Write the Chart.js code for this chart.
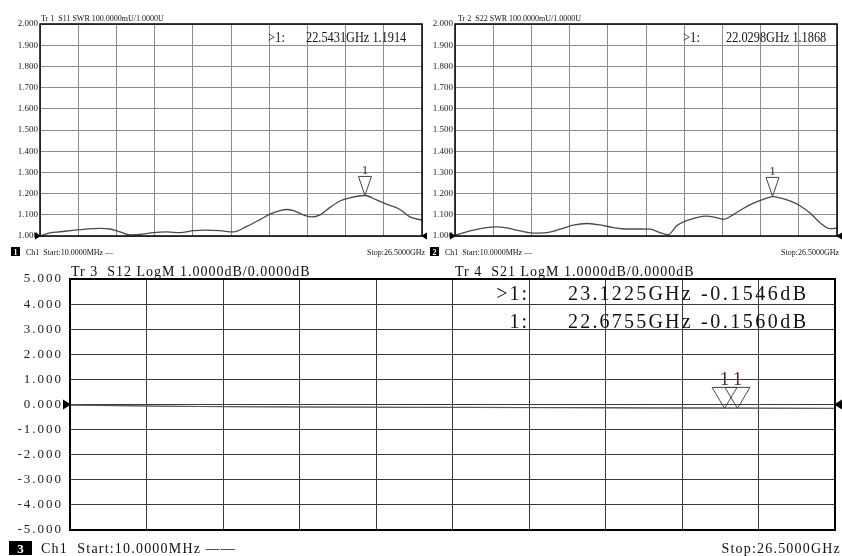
<!DOCTYPE html>
<html>
<head>
<meta charset="utf-8">
<script src="https://cdn.jsdelivr.net/npm/chart.js@4.4.0/dist/chart.umd.min.js"></script>
<style>
body { margin: 0; background: #fff; width: 842px; height: 556px; overflow: hidden; position: relative; }
canvas { position: absolute; }
</style>
</head>
<body>
<canvas id="s11" width="430" height="262" style="left:0;top:0;width:430px;height:262px"></canvas>
<canvas id="s22" width="427" height="262" style="left:415px;top:0;width:427px;height:262px"></canvas>
<canvas id="sxx" width="842" height="300" style="left:0;top:256px;width:842px;height:300px"></canvas>
<script>
// sweep
const freqStart = 0.01; // GHz
const freqStop = 26.5;
const gridDivisions = 10;

// tick labels
const swrTicks = [1.0, 1.1, 1.2, 1.3, 1.4, 1.5, 1.6, 1.7, 1.8, 1.9, 2.0];
const dbTicks = [-5, -4, -3, -2, -1, 0, 1, 2, 3, 4, 5];

// Tr 1 - S11 SWR
const s11Freq = [0.01, 0.70, 1.40, 2.78, 4.17, 4.86, 5.56, 6.25, 6.94, 7.87, 8.79, 9.72, 10.64, 11.57, 12.49,
    13.41, 14.34, 15.26, 15.96, 16.65, 17.11, 17.58, 18.27, 18.85, 19.43, 20.12, 20.81, 21.51, 22.54,
    23.35, 24.04, 24.97, 25.66, 26.50];
const s11Swr = [1.000, 1.015, 1.020, 1.030, 1.036, 1.033, 1.020, 1.005, 1.007, 1.016, 1.019, 1.016, 1.025, 1.028, 1.025,
    1.019, 1.045, 1.077, 1.103, 1.120, 1.125, 1.120, 1.100, 1.090, 1.100, 1.135, 1.165, 1.180, 1.191,
    1.170, 1.150, 1.125, 1.090, 1.075];

// Tr 2 - S22 SWR
const s22Freq = [0.01, 1.05, 2.21, 2.90, 3.59, 4.52, 5.44, 6.37, 7.29, 8.21, 9.14, 10.06, 10.99, 11.91, 12.84,
    13.53, 14.23, 14.80, 15.38, 16.08, 16.77, 17.46, 17.92, 18.62, 19.31, 20.00, 20.70, 21.39, 22.04,
    22.55, 23.24, 23.93, 24.63, 25.32, 26.01, 26.50];
const s22Swr = [1.003, 1.024, 1.040, 1.043, 1.038, 1.024, 1.014, 1.016, 1.032, 1.051, 1.059, 1.052, 1.040, 1.033, 1.033,
    1.032, 1.016, 1.006, 1.048, 1.073, 1.087, 1.094, 1.090, 1.079, 1.101, 1.130, 1.155, 1.173, 1.186,
    1.180, 1.166, 1.143, 1.108, 1.063, 1.035, 1.037];

// Tr 3 - S12 LogM, Tr 4 - S21 LogM
const s12Freq = [0.01, 1.5, 3.0, 4.5, 6.0, 8.0, 10.0, 12.0, 14.0, 16.0, 18.0, 20.0, 22.0, 24.0, 26.5];
const s12Db = [-0.02, -0.04, -0.06, -0.08, -0.09, -0.10, -0.10, -0.11, -0.11, -0.12, -0.12, -0.13, -0.13, -0.14, -0.15];
const s21Freq = [0.01, 1.5, 3.0, 4.5, 6.0, 8.0, 10.0, 12.0, 14.0, 16.0, 18.0, 20.0, 22.0, 24.0, 26.5];
const s21Db = [-0.03, -0.05, -0.07, -0.08, -0.09, -0.10, -0.11, -0.12, -0.12, -0.13, -0.14, -0.15, -0.155, -0.155, -0.16];

// markers
const s11MarkerFreq = [22.5431];
const s11MarkerVal = [1.1914];
const s22MarkerFreq = [22.0298];
const s22MarkerVal = [1.1868];
const s21MarkerFreq = [23.1225, 22.6755];
const s21MarkerVal = [-0.1546, -0.1560];

const SERIF = '"Liberation Serif", "DejaVu Serif", serif';

function pts(xs, ys) {
    return xs.map(function (x, i) { return { x: x, y: ys[i] }; });
}

// draws frame, reference arrows, markers and the instrument texts
const vnaDecor = {
    id: "vnaDecor",
    beforeDraw: function (chart, args, opts) {
        // wide-set tick digits like the instrument font
        chart.ctx.letterSpacing = (opts.tickSpacing || 0) + "px";
    },
    beforeDatasetsDraw: function (chart) {
        chart.ctx.letterSpacing = "0px";
    },
    afterDraw: function (chart, args, opts) {
        const ctx = chart.ctx;
        const a = chart.chartArea;
        const xs = chart.scales.x;
        const ys = chart.scales.y;
        ctx.save();

        ctx.strokeStyle = "#000";
        ctx.lineWidth = opts.frameWidth;
        ctx.strokeRect(a.left, a.top, a.right - a.left, a.bottom - a.top);

        // reference level arrows
        const ry = ys.getPixelForValue(opts.refValue);
        const s = opts.arrow;
        ctx.fillStyle = "#000";
        ctx.beginPath();
        ctx.moveTo(a.left - s, ry - s * 0.7);
        ctx.lineTo(a.left - s, ry + s * 0.7);
        ctx.lineTo(a.left + 1, ry);
        ctx.closePath();
        ctx.fill();
        ctx.beginPath();
        ctx.moveTo(a.right + s, ry - s * 0.7);
        ctx.lineTo(a.right + s, ry + s * 0.7);
        ctx.lineTo(a.right - 1, ry);
        ctx.closePath();
        ctx.fill();

        // markers
        opts.markerFreq.forEach(function (f, i) {
            const mx = xs.getPixelForValue(f);
            const my = ys.getPixelForValue(opts.markerVal[i]);
            const w = opts.tri[0], h = opts.tri[1];
            ctx.strokeStyle = "#444";
            ctx.lineWidth = 1;
            ctx.beginPath();
            ctx.moveTo(mx, my);
            ctx.lineTo(mx - w / 2, my - h);
            ctx.lineTo(mx + w / 2, my - h);
            ctx.closePath();
            ctx.stroke();
            ctx.fillStyle = "#4a2a20";
            ctx.font = opts.markerFont;
            ctx.textAlign = "center";
            ctx.textBaseline = "alphabetic";
            ctx.fillText("1", mx, my - h - 2);
        });

        // texts
        opts.texts.forEach(function (t) {
            if (t.box) {
                ctx.fillStyle = "#000";
                ctx.fillRect(t.box[0], t.box[1], t.box[2], t.box[3]);
                ctx.fillStyle = "#fff";
            } else {
                ctx.fillStyle = "#111";
            }
            ctx.font = t.font;
            ctx.textAlign = t.align || "left";
            ctx.textBaseline = "alphabetic";
            ctx.letterSpacing = (t.sp || 0) + "px";
            ctx.save();
            ctx.translate(t.x, t.y);
            ctx.scale(t.sx || 1, 1);
            ctx.fillText(t.text, 0, 0);
            ctx.restore();
            ctx.letterSpacing = "0px";
        });
        ctx.restore();
    },
};

function freqAxis(gridColor) {
    return {
        type: "linear",
        min: freqStart,
        max: freqStop,
        afterBuildTicks: function (scale) {
            const t = [];
            for (let i = 0; i <= gridDivisions; i++) {
                t.push({ value: freqStart + (freqStop - freqStart) * i / gridDivisions });
            }
            scale.ticks = t;
        },
        afterFit: function (scale) { scale.height = 0; },
        ticks: { display: false },
        border: { display: false },
        grid: { color: gridColor, lineWidth: 1, drawTicks: false },
    };
}

function valueAxis(tickList, width, font, gridColor, pad) {
    return {
        type: "linear",
        min: tickList[0],
        max: tickList[tickList.length - 1],
        afterBuildTicks: function (scale) {
            scale.ticks = tickList.map(function (v) { return { value: v }; });
        },
        afterFit: function (scale) { scale.width = width; },
        ticks: {
            color: "#222",
            font: font,
            padding: pad,
            callback: function (v) { return Number(v).toFixed(3); },
        },
        border: { display: false },
        grid: { color: gridColor, lineWidth: 1, drawTicks: false },
    };
}

function swrReadout(f, v) {
    return f.toFixed(4) + "GHz " + v.toFixed(4);
}

function makeSwrChart(id, tr, param, freq, swr, mFreq, mVal, pos) {
    const small = '8px ' + SERIF;
    const read = '14px ' + SERIF;
    new Chart(document.getElementById(id), {
        type: "line",
        data: {
            datasets: [{
                data: pts(freq, swr),
                borderColor: "#4a4a4a",
                borderWidth: 1.3,
                pointRadius: 0,
                cubicInterpolationMode: "monotone",
            }],
        },
        options: {
            responsive: false,
            animation: false,
            layout: { padding: { top: 24, bottom: 26, left: 0, right: pos.right } },
            plugins: {
                legend: { display: false },
                tooltip: { enabled: false },
                vnaDecor: {
                    frameWidth: 1.5,
                    refValue: 1.0,
                    arrow: 5,
                    tri: [13, 19],
                    markerFont: '13px ' + SERIF,
                    markerFreq: mFreq,
                    markerVal: mVal,
                    texts: [
                        { text: "Tr " + tr + "  " + param + " SWR 100.0000mU/1.0000U", x: pos.head, y: 21, font: small },
                        { text: ">1:", x: pos.mk, y: 42, font: read, sx: 0.9 },
                        { text: swrReadout(mFreq[0], mVal[0]), x: pos.mv, y: 42, font: read, sx: 0.88 },
                        { text: String(tr), x: pos.box + 4.5, y: 255, font: 'bold 8px ' + SERIF, align: "center", box: [pos.box, 247, 9, 9] },
                        { text: "Ch1  Start:10.0000MHz \u2014", x: pos.box + 15, y: 255, font: small },
                        { text: "Stop:26.5000GHz", x: pos.stop, y: 255, font: small, align: "right" },
                    ],
                },
            },
            scales: {
                x: freqAxis("#8c8c8c"),
                y: valueAxis(swrTicks, 40, { family: SERIF, size: 9 }, "#8c8c8c", 2),
            },
        },
        plugins: [vnaDecor],
    });
}

makeSwrChart("s11", 1, "S11", s11Freq, s11Swr, s11MarkerFreq, s11MarkerVal,
    { right: 8, head: 41, mk: 268, mv: 306, box: 11, stop: 425 });
makeSwrChart("s22", 2, "S22", s22Freq, s22Swr, s22MarkerFreq, s22MarkerVal,
    { right: 5, head: 43, mk: 268, mv: 311, box: 15, stop: 424 });

// bottom: S12 and S21 share one grid
const big = '20px ' + SERIF;
const mid = '14px ' + SERIF;
new Chart(document.getElementById("sxx"), {
    type: "line",
    data: {
        datasets: [
            { data: pts(s12Freq, s12Db), borderColor: "#555", borderWidth: 1, pointRadius: 0, cubicInterpolationMode: "monotone" },
            { data: pts(s21Freq, s21Db), borderColor: "#777", borderWidth: 1, pointRadius: 0, cubicInterpolationMode: "monotone" },
        ],
    },
    options: {
        responsive: false,
        animation: false,
        layout: { padding: { top: 23, bottom: 26, left: 0, right: 7 } },
        plugins: {
            legend: { display: false },
            tooltip: { enabled: false },
            vnaDecor: {
                frameWidth: 2,
                refValue: 0,
                arrow: 7,
                tickSpacing: 2,
                tri: [25, 21],
                markerFont: '19px ' + SERIF,
                markerFreq: s21MarkerFreq,
                markerVal: s21MarkerVal,
                texts: [
                    { text: "Tr 3  S12 LogM 1.0000dB/0.0000dB", x: 71, y: 20, font: mid, sp: 1 },
                    { text: "Tr 4  S21 LogM 1.0000dB/0.0000dB", x: 455, y: 20, font: mid, sp: 1 },
                    { text: ">1:", x: 529, y: 44, font: big, align: "right", sp: 2 },
                    { text: s21MarkerFreq[0].toFixed(4) + "GHz", x: 568, y: 44, font: big, sp: 2.2 },
                    { text: s21MarkerVal[0].toFixed(4) + "dB", x: 701, y: 44, font: big, sp: 2.5 },
                    { text: "1:", x: 529, y: 72, font: big, align: "right", sp: 2 },
                    { text: s21MarkerFreq[1].toFixed(4) + "GHz", x: 568, y: 72, font: big, sp: 2.2 },
                    { text: s21MarkerVal[1].toFixed(4) + "dB", x: 701, y: 72, font: big, sp: 2.5 },
                    { text: "3", x: 20.5, y: 297, font: 'bold 13px ' + SERIF, align: "center", box: [9, 285, 23, 14] },
                    { text: "Ch1  Start:10.0000MHz \u2014\u2014", x: 41, y: 297, font: mid, sp: 1.2 },
                    { text: "Stop:26.5000GHz", x: 841, y: 297, font: mid, align: "right", sp: 1.2 },
                ],
            },
        },
        scales: {
            x: freqAxis("#3a3a3a"),
            y: valueAxis(dbTicks, 70, { family: SERIF, size: 13 }, "#3a3a3a", 7),
        },
    },
    plugins: [vnaDecor],
});
</script>
</body>
</html>
